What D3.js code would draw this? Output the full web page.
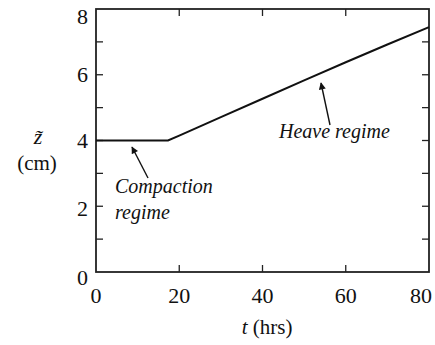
<!DOCTYPE html>
<html>
<head>
<meta charset="utf-8">
<script src="https://cdn.jsdelivr.net/npm/d3@7"></script>
</head>
<body style="margin:0">
<script>
// data
var hours  = [0, 10, 17.3, 20, 25, 30, 40, 50, 60, 70, 80]
  , height = [4, 4, 4, 4.15, 4.43, 4.71, 5.27, 5.83, 6.38, 6.92, 7.45]
  , xTicks = [0, 20, 40, 60, 80]
  , yTicks = [0, 2, 4, 6, 8]
  , yMinor = [1, 3, 5, 7]

var W = 435, H = 345
  , m = { left: 96, right: 6, top: 9, bottom: 73 }

var svg = d3.select('body').append('svg')
  .attr('width', W).attr('height', H)

var x = d3.scaleLinear().domain([0, 80]).range([m.left, W - m.right])
  , y = d3.scaleLinear().domain([0, 8]).range([H - m.bottom, m.top])

// every text goes through here so it picks up the serif face
function label(size){
  return svg.append('text')
    .attr('font-size', size)
    .style('font-family', "'Liberation Serif'")
    .attr('fill', '#111')
}

svg.append('defs').append('marker')
  .attr('id', 'head')
  .attr('viewBox', '0 0 10 10')
  .attr('refX', 9).attr('refY', 5)
  .attr('markerWidth', 9).attr('markerHeight', 7)
  .attr('markerUnits', 'userSpaceOnUse')
  .attr('orient', 'auto')
  .append('path').attr('d', 'M0,0 L10,5 L0,10 Z').attr('fill', '#111')

// frame
svg.append('rect')
  .attr('x', x(0)).attr('y', y(8))
  .attr('width', x(80) - x(0)).attr('height', y(0) - y(8))
  .attr('fill', 'none').attr('stroke', '#222').attr('stroke-width', 1.8)

// inward ticks, all four sides
var tick = 7
function ticks(data, horizontal, at, dir){
  svg.append('g').selectAll('line').data(data).enter()
    .append('line')
    .attr(horizontal ? 'x1' : 'y1', horizontal ? x : y)
    .attr(horizontal ? 'x2' : 'y2', horizontal ? x : y)
    .attr(horizontal ? 'y1' : 'x1', at)
    .attr(horizontal ? 'y2' : 'x2', at + dir * tick)
    .attr('stroke', '#222').attr('stroke-width', 1.3)
}
var inner = xTicks.slice(1, -1)
  , yAll = yTicks.slice(1, -1).concat(yMinor)
ticks(inner, true, y(0), -1)
ticks(inner, true, y(8), 1)
ticks(yAll, false, x(0), 1)
ticks(yAll, false, x(80), -1)

// tick labels
xTicks.forEach(function(d){
  label(22)
    .attr('x', Math.min(x(d), W - 14))
    .attr('y', H - 42)
    .attr('text-anchor', 'middle')
    .text(String(d))
})

// labels at the ends sit a little lower than the others
yTicks.forEach(function(d){
  var dy = d === 8 ? 15 : d === 0 ? 13 : d === 2 ? 10 : 7.5
  label(22)
    .attr('x', x(0) - 8)
    .attr('y', y(d) + dy)
    .attr('text-anchor', 'end')
    .text(String(d))
})

// axis titles
var xt = label(21)
  .attr('x', 267).attr('y', 334)
  .attr('text-anchor', 'middle')
xt.append('tspan').style('font-style', 'italic').text('t')
xt.append('tspan').text(' (hrs)')

// z with a combining tilde, one text so nothing overlaps
label(22)
  .attr('x', 38).attr('y', 144)
  .attr('text-anchor', 'middle')
  .style('font-style', 'italic')
  .text('z\u0303')
label(21)
  .attr('x', 37).attr('y', 170)
  .attr('text-anchor', 'middle')
  .text('(cm)')

// the curve
var line = d3.line()
  .x(function(d){ return x(d[0]) })
  .y(function(d){ return y(d[1]) })

svg.append('path')
  .datum(d3.zip(hours, height))
  .attr('d', line)
  .attr('fill', 'none')
  .attr('stroke', '#111')
  .attr('stroke-width', 2)

// annotations
function arrow(x1, y1, x2, y2){
  svg.append('line')
    .attr('x1', x1).attr('y1', y1).attr('x2', x2).attr('y2', y2)
    .attr('stroke', '#111').attr('stroke-width', 1.4)
    .attr('marker-end', 'url(#head)')
}
arrow(148, 178, 132, 147)
arrow(330, 125, 321, 83)

label(20).style('font-style', 'italic')
  .attr('x', 115).attr('y', 193).text('Compaction')
label(20).style('font-style', 'italic')
  .attr('x', 115).attr('y', 219).text('regime')
label(20).style('font-style', 'italic')
  .attr('x', 279).attr('y', 138).text('Heave regime')
</script>
</body>
</html>
